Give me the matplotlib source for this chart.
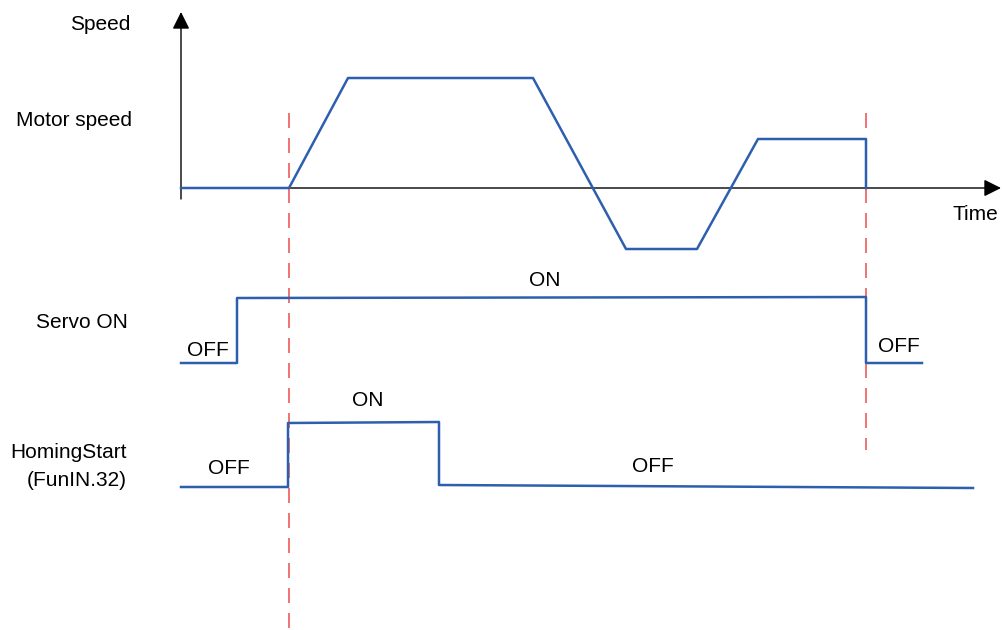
import matplotlib.pyplot as plt

plt.rcParams['font.family'] = ['Liberation Sans', 'DejaVu Sans']

# timing diagram, coordinates in picture units (x = time, y = level)
speed_t = [181, 289, 348, 533, 626, 697, 758, 866, 866]
speed_v = [188, 188, 78, 78, 249, 249, 139, 139, 188]

servo_t = [181, 237, 237, 866, 866, 922]
servo_v = [363, 363, 298, 297, 363, 363]

homing_t = [181, 288, 288, 439, 439, 973]
homing_v = [487, 487, 423, 422, 485, 488]

marker_t = [289, 866]
marker_top = [113, 113]
marker_bottom = [630, 450]

blue = '#2d5fae'
red = '#ee5a5a'

fig = plt.figure(figsize=(10.02, 6.3), dpi=100)
ax = fig.add_axes([0, 0, 1, 1])
ax.set_xlim(0, 1002)
ax.set_ylim(630, 0)
ax.axis('off')

# axes with arrows
ax.annotate('', xy=(181, 12), xytext=(181, 199), annotation_clip=False,
            arrowprops=dict(arrowstyle='-|>', color='black', lw=1.0,
                            mutation_scale=26, shrinkA=0, shrinkB=0))
ax.annotate('', xy=(1001, 188), xytext=(181, 188), annotation_clip=False,
            arrowprops=dict(arrowstyle='-|>', color='black', lw=1.0,
                            mutation_scale=26, shrinkA=0, shrinkB=0))

for t, y0, y1 in zip(marker_t, marker_top, marker_bottom):
    ax.plot([t, t], [y0, y1], color=red, lw=1.2, dashes=(9, 6), zorder=1)

ax.plot(speed_t, speed_v, color=blue, lw=1.8, zorder=3)
ax.plot(servo_t, servo_v, color=blue, lw=1.8, zorder=3)
ax.plot(homing_t, homing_v, color=blue, lw=1.8, zorder=3)

fs = 15
ax.text(130, 24, 'Speed', ha='right', va='center', fontsize=fs)
ax.text(132, 120, 'Motor speed', ha='right', va='center', fontsize=fs)
ax.text(975, 215, 'Time', ha='center', va='center', fontsize=fs)
ax.text(128, 322, 'Servo ON', ha='right', va='center', fontsize=fs)
ax.text(127, 453, 'HomingStart', ha='right', va='center', fontsize=fs)
ax.text(127, 480, '(FunIN.32)', ha='right', va='center', fontsize=fs)

ax.text(545, 281, 'ON', ha='center', va='center', fontsize=fs)
ax.text(208, 350, 'OFF', ha='center', va='center', fontsize=fs)
ax.text(899, 347, 'OFF', ha='center', va='center', fontsize=fs)
ax.text(368, 400, 'ON', ha='center', va='center', fontsize=fs)
ax.text(229, 468, 'OFF', ha='center', va='center', fontsize=fs)
ax.text(653, 467, 'OFF', ha='center', va='center', fontsize=fs)

fig.savefig('out.png', dpi=100)
